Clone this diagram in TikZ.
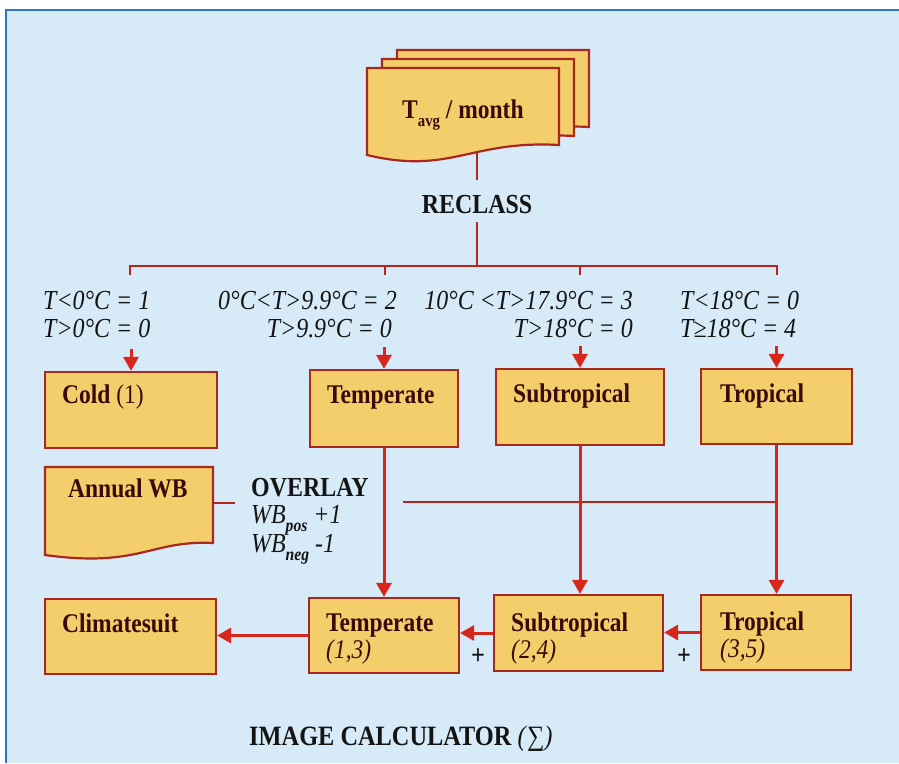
\documentclass[tikz,border=0pt]{standalone}
\usepackage{fontspec}
\setmainfont{Liberation Serif}[FakeStretch=0.87]
\usetikzlibrary{arrows.meta}
\definecolor{bgblue}{HTML}{D6EAF7}
\definecolor{frameblue}{HTML}{2F72C0}
\definecolor{boxfill}{HTML}{F3CE6A}
\definecolor{boxedge}{HTML}{A8281F}
\definecolor{linered}{HTML}{B3261E}
\definecolor{arrowred}{HTML}{D9261C}
\definecolor{labelbrown}{HTML}{3A0A08}
\definecolor{inkblack}{HTML}{141414}
\tikzset{
  box/.style={draw=boxedge, line width=2.2pt, fill=boxfill, inner sep=0pt},
  boxtxt/.style={anchor=base west, inner sep=0pt, text=labelbrown, font=\fontsize{27}{28}\selectfont\bfseries},
  boxsub/.style={anchor=base west, inner sep=0pt, text=labelbrown, font=\fontsize{27}{28}\selectfont\itshape},
  cond/.style={inner sep=0pt, text=inkblack, font=\fontsize{27.5}{28}\selectfont\itshape},
  title/.style={inner sep=0pt, text=inkblack, font=\fontsize{27.5}{28}\selectfont\bfseries},
  bus/.style={draw=linered, line width=2.8pt},
  arr/.style={draw=arrowred, line width=3pt, -{Triangle[length=14pt,width=15pt]}},
}
\begin{document}
\begin{tikzpicture}[x=1pt,y=-1pt]
\useasboundingbox (0,0) rectangle (899,763);
\fill[white] (0,0) rectangle (899,763);
\fill[bgblue] (6,10) rectangle (899,763);
\draw[frameblue, line width=2.5pt] (6,763) -- (6,10) -- (899,10);

% stacked documents T_avg / month
\coordinate (docstem) at (477,150);
\coordinate (stemend) at (477,180);
\draw[bus] (docstem) -- (stemend);
\foreach \dx/\dy in {30/-18,15/-9,0/0}{
  \begin{scope}[shift={(\dx,\dy)}]
    \draw[box] (367,68) -- (559,68) -- (559,145) .. controls (470,140) and (450,175) .. (367,155) -- cycle;
  \end{scope}
}
\node[boxtxt] (tavg) at (402,118) {T\raisebox{-0.3em}{\fontsize{17}{17}\selectfont avg} / month};

% RECLASS
\node[title, anchor=base] (reclass) at (477,213) {RECLASS};
\coordinate (busmid) at (477,266);
\coordinate (busL) at (130,266);
\coordinate (busR) at (777,266);
\draw[bus] ([yshift=-9pt]reclass.south) -- (busmid);
\draw[bus] ([yshift=-9pt]busL) -- (busL) -- (busR) -- ([yshift=-9pt]busR);
\draw[bus] (385,266) -- (385,275);
\draw[bus] (580,266) -- (580,275);

% condition labels
\node[cond, anchor=base west] (c1a) at (43,309) {T<0°C = 1};
\node[cond, anchor=base west] (c1b) at (43,337) {T>0°C = 0};
\node[cond, anchor=base east] (c2a) at (397,309) {0°C<T>9.9°C = 2};
\node[cond, anchor=base east] (c2b) at (392,337) {T>9.9°C = 0};
\node[cond, anchor=base east] (c3a) at (633,309) {10°C <T>17.9°C = 3};
\node[cond, anchor=base east] (c3b) at (633,337) {T>18°C = 0};
\node[cond, anchor=base west] (c4a) at (680,309) {T<18°C = 0};
\node[cond, anchor=base west] (c4b) at (680,337) {T≥18°C = 4};

% row 1 boxes
\node[box, minimum width=172pt, minimum height=76pt] (cold) at (131,410) {};
\node[box, minimum width=148pt, minimum height=77pt] (temp1) at (384,408.5) {};
\node[box, minimum width=168pt, minimum height=76pt] (sub1) at (580,407) {};
\node[box, minimum width=151pt, minimum height=75pt] (trop1) at (776.5,406.5) {};
\node[boxtxt] (coldt) at (62,403) {Cold \mdseries(1)};
\node[boxtxt] (temp1t) at (327,403) {Temperate};
\node[boxtxt] (sub1t) at (513,402) {Subtropical};
\node[boxtxt] (trop1t) at (720,402) {Tropical};

\draw[arr] ([yshift=22pt]cold.north) -- (cold.north);
\draw[arr] ([yshift=22pt]temp1.north) -- (temp1.north);
\draw[arr] ([yshift=22pt]sub1.north) -- (sub1.north);
\draw[arr] ([yshift=22pt]trop1.north) -- (trop1.north);

% Annual WB document
\coordinate (wbE) at (213,503);
\coordinate (wbgap) at (235,503);
\draw[box] (45,467) -- (213,467) -- (213,543) .. controls (150,540) and (140,568) .. (45,555) -- cycle;
\node[boxtxt] (wbt) at (68,497) {Annual WB};

% overlay
\node[title, anchor=base west] (overlay) at (251,496) {OVERLAY};
\node[cond, anchor=base west] (wbpos) at (251,523) {WB\raisebox{-0.3em}{\fontsize{18}{18}\selectfont\bfseries\itshape pos} +1};
\node[cond, anchor=base west] (wbneg) at (251,552) {WB\raisebox{-0.3em}{\fontsize{18}{18}\selectfont\bfseries\itshape neg} -1};
\coordinate (ovstart) at (403,502);
\coordinate (ovjoin) at (776.5,502);
\draw[bus] (wbE) -- (wbgap);
\draw[bus] (ovstart) -- (ovjoin);

% row 2 boxes
\node[box, minimum width=171pt, minimum height=75pt] (clim) at (130.5,636.5) {};
\node[box, minimum width=150pt, minimum height=75pt] (temp2) at (384,635.5) {};
\node[box, minimum width=169pt, minimum height=76pt] (sub2) at (578.5,633) {};
\node[box, minimum width=150pt, minimum height=75pt] (trop2) at (776,632.5) {};
\node[boxtxt] (climt) at (62,632) {Climatesuit};
\node[boxtxt] (temp2t) at (326,631) {Temperate};
\node[boxsub] (temp2s) at (326,658) {(1,3)};
\node[boxtxt] (sub2t) at (511,631) {Subtropical};
\node[boxsub] (sub2s) at (511,658) {(2,4)};
\node[boxtxt] (trop2t) at (720,630) {Tropical};
\node[boxsub] (trop2s) at (720,657) {(3,5)};

% vertical arrows
\draw[arr] (temp1.south) -- (temp1.south |- temp2.north);
\draw[arr] (sub1.south) -- (sub1.south |- sub2.north);
\draw[arr] (trop1.south) -- (trop1.south |- trop2.north);

% horizontal arrows
\draw[arr] (temp2.west) -- (temp2.west -| clim.east);
\draw[arr] (sub2.west) -- (sub2.west -| temp2.east);
\draw[arr] (trop2.west) -- (trop2.west -| sub2.east);
\node[title, font=\fontsize{28}{28}\selectfont\bfseries] (plus1) at (478,657) {+};
\node[title, font=\fontsize{28}{28}\selectfont\bfseries] (plus2) at (684,657) {+};

% image calculator
\node[title, anchor=base west, font=\fontsize{28}{28}\selectfont\bfseries] (calc) at (249,745) {IMAGE CALCULATOR \textit{\mdseries(}\mdseries∑\textit{\mdseries)}};
\end{tikzpicture}
\end{document}
